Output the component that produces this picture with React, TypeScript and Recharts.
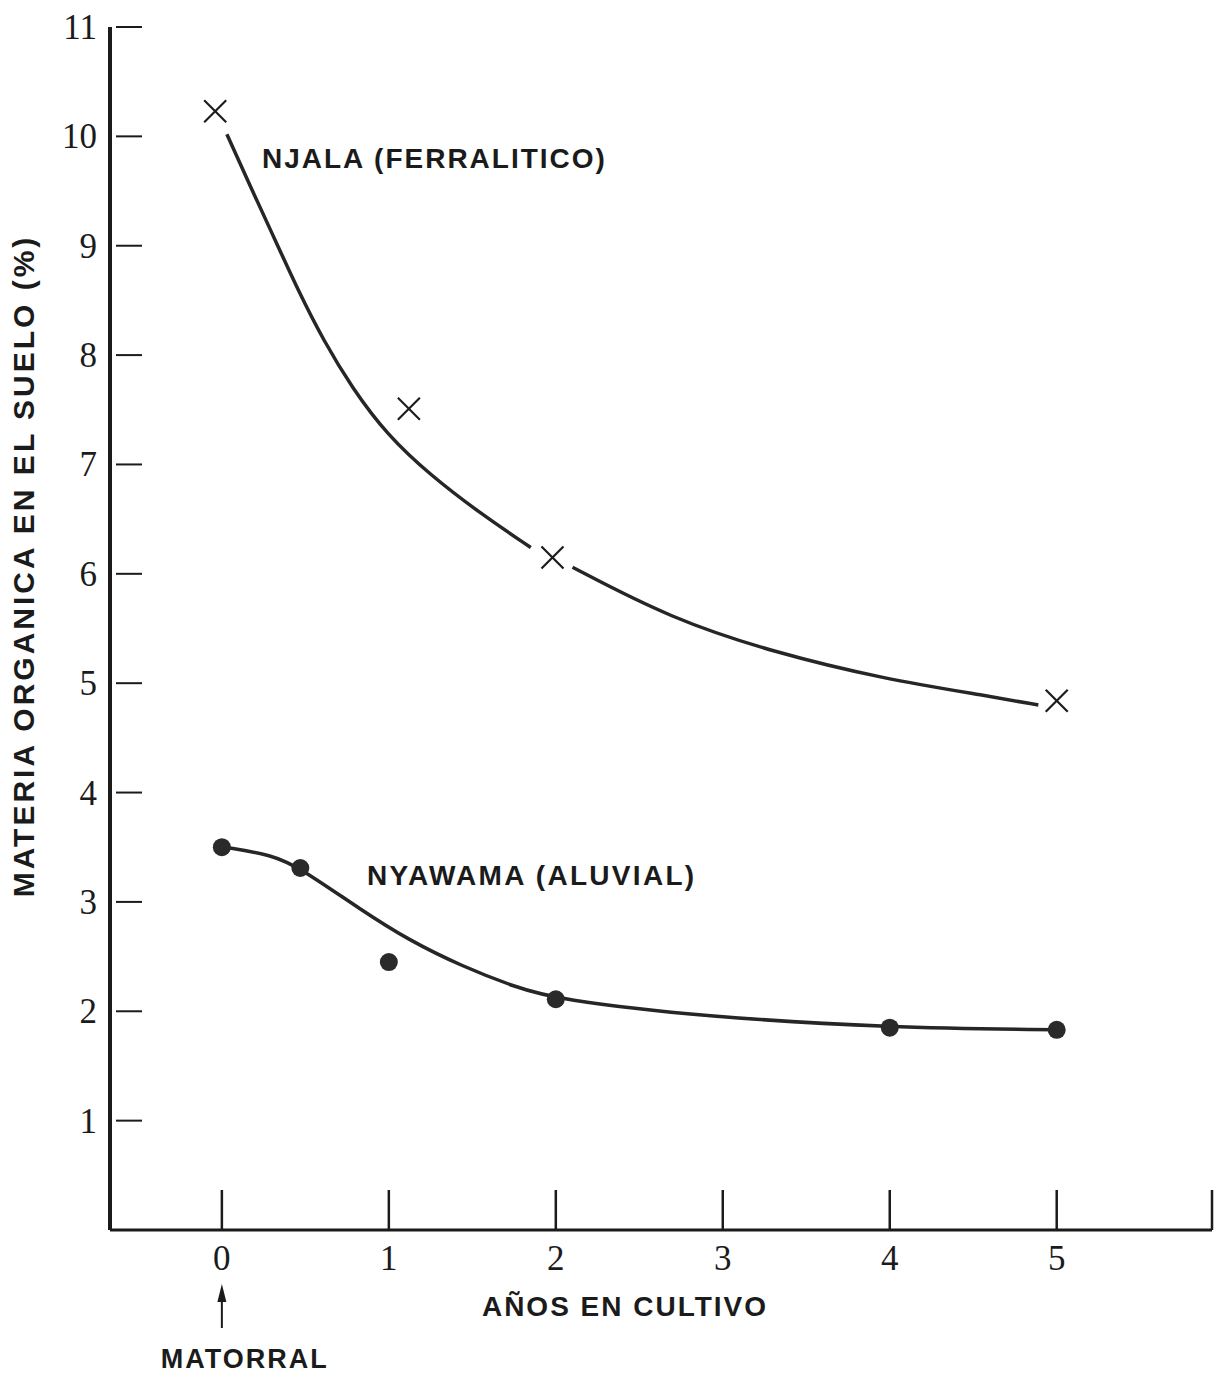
import React from "react";
import { ComposedChart, Line, Scatter, XAxis, YAxis, Customized } from "recharts";

const INK = "#1b1b1b";
const SANS = "'Liberation Sans', Arial, sans-serif";
const SERIF = "'Liberation Serif', 'Times New Roman', serif";

// axes
const xTicks = [0, 1, 2, 3, 4, 5];
const yTicks = [1, 2, 3, 4, 5, 6, 7, 8, 9, 10, 11];
const X_MIN = -0.67;
const X_MAX = 5.93;

// measured points (años, % materia organica)
const njalaPoints = [
  { x: -0.04, y: 10.23 },
  { x: 1.12, y: 7.51 },
  { x: 1.98, y: 6.15 },
  { x: 5, y: 4.84 },
];
const nyawamaPoints = [
  { x: 0, y: 3.5 },
  { x: 0.47, y: 3.31 },
  { x: 1, y: 2.45 },
  { x: 2, y: 2.11 },
  { x: 4, y: 1.85 },
  { x: 5, y: 1.83 },
];

// hand drawn curves, the njala one is broken around the mark at 2
const njalaCurveA = [
  { x: 0.03, y: 10.02 },
  { x: 0.18, y: 9.51 },
  { x: 0.32, y: 9.05 },
  { x: 0.46, y: 8.58 },
  { x: 0.61, y: 8.13 },
  { x: 0.78, y: 7.7 },
  { x: 0.99, y: 7.27 },
  { x: 1.25, y: 6.9 },
  { x: 1.55, y: 6.55 },
  { x: 1.85, y: 6.24 },
];
const njalaCurveB = [
  { x: 2.1, y: 6.06 },
  { x: 2.69, y: 5.59 },
  { x: 3.31, y: 5.28 },
  { x: 3.96, y: 5.04 },
  { x: 4.6, y: 4.88 },
  { x: 4.89, y: 4.8 },
];
const nyawamaCurve = [
  { x: 0.02, y: 3.5 },
  { x: 0.3, y: 3.43 },
  { x: 0.47, y: 3.31 },
  { x: 0.84, y: 2.92 },
  { x: 1.12, y: 2.65 },
  { x: 1.44, y: 2.41 },
  { x: 1.76, y: 2.22 },
  { x: 2, y: 2.11 },
  { x: 2.89, y: 1.95 },
  { x: 4, y: 1.85 },
  { x: 5, y: 1.83 },
];

const labelStyle = { letterSpacing: 2 };

function YTick({ x, y, payload }: any) {
  return (
    <g>
      <line x1={x + 6} x2={x + 32} y1={y} y2={y} stroke={INK} strokeWidth={2} />
      <text
        x={x - 13}
        y={y + 12}
        textAnchor="end"
        fontFamily={SERIF}
        fontSize={35}
        fill={INK}
      >
        {payload.value}
      </text>
    </g>
  );
}

function XTick({ x, y, payload }: any) {
  const isEnd = payload.value === X_MAX;
  return (
    <g>
      <line x1={x} x2={x} y1={y - 40} y2={y} stroke={INK} strokeWidth={2.5} />
      {!isEnd && (
        <text x={x} y={y + 40} textAnchor="middle" fontFamily={SERIF} fontSize={35} fill={INK}>
          {payload.value}
        </text>
      )}
      {payload.value === 0 && (
        <g>
          <line x1={x} x2={x} y1={y + 66} y2={y + 98} stroke={INK} strokeWidth={2} />
          <path d={`M ${x} ${y + 54} L ${x - 4.5} ${y + 72} L ${x + 4.5} ${y + 72} Z`} fill={INK} />
          <text
            x={x - 61}
            y={y + 138}
            fontFamily={SANS}
            fontWeight={700}
            fontSize={27}
            fill={INK}
            style={labelStyle}
          >
            MATORRAL
          </text>
        </g>
      )}
    </g>
  );
}

function CrossMark({ cx, cy }: any) {
  return (
    <g stroke={INK} strokeWidth={2.2}>
      <line x1={cx - 11} y1={cy - 11} x2={cx + 11} y2={cy + 11} />
      <line x1={cx - 11} y1={cy + 11} x2={cx + 11} y2={cy - 11} />
    </g>
  );
}

function DotMark({ cx, cy }: any) {
  return <circle cx={cx} cy={cy} r={9} fill="#2a2a2a" />;
}

function Annotations() {
  return (
    <g fill={INK} fontFamily={SANS} fontWeight={700} fontSize={28}>
      <text x={262} y={168} style={labelStyle}>
        NJALA (FERRALITICO)
      </text>
      <text x={367} y={885} style={{ letterSpacing: 2.3 }}>
        NYAWAMA (ALUVIAL)
      </text>
      <text x={625} y={1316} textAnchor="middle" style={labelStyle}>
        AÑOS EN CULTIVO
      </text>
      <text
        transform="translate(34, 566) rotate(-90)"
        textAnchor="middle"
        fontSize={30}
        style={{ letterSpacing: 3 }}
      >
        MATERIA ORGANICA EN EL SUELO (%)
      </text>
    </g>
  );
}

export default function App() {
  return (
    <div style={{ position: "absolute", left: 0, top: 0, background: "#fff" }}>
      <ComposedChart
        width={1220}
        height={1376}
        margin={{ top: 27, right: 8, bottom: 86, left: 50 }}
      >
        <XAxis
          type="number"
          dataKey="x"
          domain={[X_MIN, X_MAX]}
          ticks={[...xTicks, X_MAX]}
          interval={0}
          allowDataOverflow
          height={60}
          tickSize={0}
          tickMargin={0}
          tickLine={false}
          axisLine={{ stroke: INK, strokeWidth: 3 }}
          tick={(p: any) => <XTick {...p} />}
        />
        <YAxis
          type="number"
          dataKey="y"
          domain={[0, 11]}
          ticks={yTicks}
          interval={0}
          allowDataOverflow
          width={60}
          tickSize={0}
          tickMargin={0}
          tickLine={false}
          axisLine={{ stroke: INK, strokeWidth: 4 }}
          tick={(p: any) => <YTick {...p} />}
        />
        <Line
          data={njalaCurveA}
          dataKey="y"
          type="basis"
          stroke="#262626"
          strokeWidth={3.5}
          dot={false}
          activeDot={false}
          isAnimationActive={false}
        />
        <Line
          data={njalaCurveB}
          dataKey="y"
          type="basis"
          stroke="#262626"
          strokeWidth={3.5}
          dot={false}
          activeDot={false}
          isAnimationActive={false}
        />
        <Line
          data={nyawamaCurve}
          dataKey="y"
          type="basis"
          stroke="#262626"
          strokeWidth={3.5}
          dot={false}
          activeDot={false}
          isAnimationActive={false}
        />
        <Scatter data={njalaPoints} dataKey="y" shape={CrossMark} isAnimationActive={false} />
        <Scatter data={nyawamaPoints} dataKey="y" shape={DotMark} isAnimationActive={false} />
        <Customized component={Annotations} />
      </ComposedChart>
    </div>
  );
}
